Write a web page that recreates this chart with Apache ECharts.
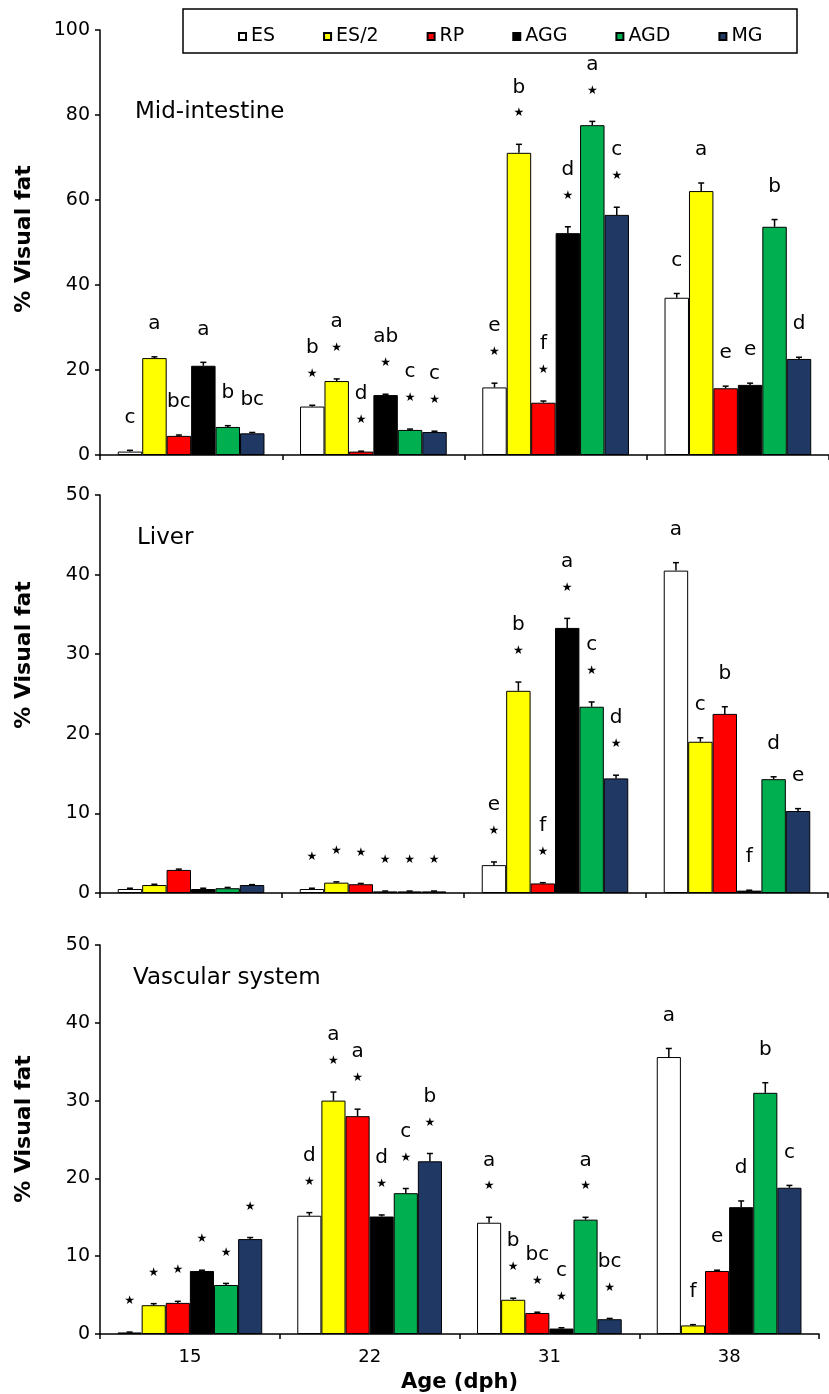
<!DOCTYPE html>
<html>
<head>
<meta charset="utf-8">
<script src="https://cdn.jsdelivr.net/npm/echarts@6/dist/echarts.min.js"></script>
<style>
  html, body { margin: 0; padding: 0; background: #fff; }
  #chart { width: 829px; height: 1394px; }
</style>
</head>
<body>
<div id="chart"></div>
<script>
// categories
const ages = ['15', '22', '31', '38']
const groups = ['ES', 'ES/2', 'RP', 'AGG', 'AGD', 'MG']
const colors = ['#ffffff', '#ffff00', '#ff0000', '#000000', '#00b050', '#1f3864']

// Mid-intestine (rows = groups, cols = ages)
const midVal = [
  [0.8, 11.4, 15.9, 37.0],
  [22.8, 17.4, 71.1, 62.1],
  [4.5, 0.8, 12.3, 15.7],
  [21.0, 14.1, 52.2, 16.5],
  [6.6, 5.9, 77.6, 53.7],
  [5.1, 5.4, 56.5, 22.6]
]
const midErr = [
  [0.3, 0.3, 1.0, 1.0],
  [0.3, 0.5, 2.0, 1.9],
  [0.2, 0.1, 0.4, 0.5],
  [0.8, 0.2, 1.5, 0.4],
  [0.3, 0.2, 0.9, 1.7],
  [0.2, 0.2, 1.8, 0.4]
]
const midLetter = [
  ['c', 'b', 'e', 'c'],
  ['a', 'a', 'b', 'a'],
  ['bc', 'd', 'f', 'e'],
  ['a', 'ab', 'd', 'e'],
  ['b', 'c', 'a', 'b'],
  ['bc', 'c', 'c', 'd']
]
const midStar = [0, 1, 1, 0]

// Liver
const livVal = [
  [0.5, 0.5, 3.5, 40.5],
  [1.0, 1.3, 25.4, 19.0],
  [2.9, 1.1, 1.2, 22.5],
  [0.5, 0.2, 33.3, 0.3],
  [0.6, 0.2, 23.4, 14.3],
  [1.0, 0.2, 14.4, 10.3]
]
const livErr = [
  [0.1, 0.1, 0.4, 1.0],
  [0.1, 0.1, 1.1, 0.5],
  [0.1, 0.1, 0.1, 0.9],
  [0.1, 0.05, 1.2, 0.05],
  [0.1, 0.05, 0.6, 0.3],
  [0.05, 0.05, 0.4, 0.3]
]
const livLetter = [
  ['', '', 'e', 'a'],
  ['', '', 'b', 'c'],
  ['', '', 'f', 'b'],
  ['', '', 'a', 'f'],
  ['', '', 'c', 'd'],
  ['', '', 'd', 'e']
]
const livStar = [0, 1, 1, 0]

// Vascular system
const vasVal = [
  [0.2, 15.2, 14.3, 35.6],
  [3.7, 30.0, 4.4, 1.1],
  [4.0, 28.0, 2.7, 8.1],
  [8.1, 15.1, 0.7, 16.3],
  [6.3, 18.1, 14.7, 31.0],
  [12.2, 22.2, 1.9, 18.8]
]
const vasErr = [
  [0.05, 0.4, 0.7, 1.1],
  [0.2, 1.1, 0.2, 0.1],
  [0.2, 0.9, 0.1, 0.1],
  [0.1, 0.2, 0.1, 0.8],
  [0.2, 0.6, 0.3, 1.3],
  [0.2, 1.0, 0.1, 0.3]
]
const vasLetter = [
  ['', 'd', 'a', 'a'],
  ['', 'a', 'b', 'f'],
  ['', 'a', 'bc', 'e'],
  ['', 'd', 'c', 'd'],
  ['', 'c', 'a', 'b'],
  ['', 'b', 'bc', 'c']
]
const vasStar = [1, 1, 1, 0]

const FONT = '"DejaVu Sans", sans-serif'
const BAR_FILL = 0.805

const panels = [
  { title: 'Mid-intestine', val: midVal, err: midErr, letter: midLetter, star: midStar,
    grid: { left: 100, top: 30, width: 734, height: 425 }, max: 100, interval: 20,
    titlePos: [135, 112], namePos: [24, 239] },
  { title: 'Liver', val: livVal, err: livErr, letter: livLetter, star: livStar,
    grid: { left: 100, top: 495, width: 728, height: 398 }, max: 50, interval: 10,
    titlePos: [137, 538], namePos: [24, 655] },
  { title: 'Vascular system', val: vasVal, err: vasErr, letter: vasLetter, star: vasStar,
    grid: { left: 100, top: 945, width: 719, height: 389 }, max: 50, interval: 10,
    titlePos: [133, 978], namePos: [24, 1129] }
]

const series = []
panels.forEach((p, pi) => {
  groups.forEach((g, s) => {
    series.push({
      name: g,
      type: 'bar',
      xAxisIndex: pi,
      yAxisIndex: pi,
      barGap: '0%',
      barCategoryGap: ((1 - BAR_FILL) * 100) + '%',
      itemStyle: { color: colors[s], borderColor: '#000', borderWidth: 1 },
      emphasis: { disabled: true },
      data: p.val[s]
    })
  })
  // error bars + significance marks
  const items = []
  groups.forEach((g, s) => {
    ages.forEach((a, c) => {
      items.push([c, p.val[s][c] + p.err[s][c], s])
    })
  })
  series.push({
    type: 'custom',
    xAxisIndex: pi,
    yAxisIndex: pi,
    z: 5,
    silent: true,
    encode: { x: 0, y: 1 },
    data: items,
    renderItem: (params, api) => {
      const c = api.value(0)
      const s = api.value(2)
      const v = p.val[s][c]
      const e = p.err[s][c]
      const band = api.size([1, 0])[0]
      const bw = band * BAR_FILL / 6
      const x = api.coord([c, 0])[0] + (s - 2.5) * bw
      const yBar = api.coord([c, v])[1]
      const yTop = api.coord([c, v + e])[1]
      const children = [
        { type: 'line', shape: { x1: x, y1: yBar, x2: x, y2: yTop }, style: { stroke: '#000', lineWidth: 1.5 } },
        { type: 'line', shape: { x1: x - 3, y1: yTop, x2: x + 3, y2: yTop }, style: { stroke: '#000', lineWidth: 1.5 } }
      ]
      const hasStar = p.star[c] === 1
      if (hasStar) {
        children.push({
          type: 'text',
          style: { text: '★', x: x, y: yTop - 31, align: 'center', verticalAlign: 'middle',
            fontSize: 12, fontFamily: FONT, fill: '#000' }
        })
      }
      const txt = p.letter[s][c]
      if (txt) {
        children.push({
          type: 'text',
          style: { text: txt, x: x, y: yTop - (hasStar ? 57 : 33), align: 'center', verticalAlign: 'middle',
            fontSize: 20, fontFamily: FONT, fill: '#000' }
        })
      }
      return { type: 'group', children: children }
    }
  })
})

const graphics = [
  { type: 'rect', shape: { x: 183, y: 9, width: 614, height: 44 },
    style: { fill: 'none', stroke: '#000', lineWidth: 1.5 } }
]
panels.forEach(p => {
  graphics.push({
    type: 'text', x: p.titlePos[0], y: p.titlePos[1],
    style: { text: p.title, fontSize: 23, fontFamily: FONT, fill: '#000', verticalAlign: 'middle' }
  })
  graphics.push({
    type: 'text', x: p.namePos[0], y: p.namePos[1], rotation: Math.PI / 2,
    style: { text: '% Visual fat', fontSize: 22, fontWeight: 'bold', fontFamily: FONT, fill: '#000',
      align: 'center', verticalAlign: 'middle' }
  })
})

const option = {
  animation: false,
  backgroundColor: '#fff',
  legend: {
    data: groups,
    left: 233,
    top: 22,
    icon: 'rect',
    itemWidth: 7,
    itemHeight: 7,
    itemGap: 48,
    selectedMode: false,
    textStyle: { fontFamily: FONT, fontSize: 19, color: '#000' }
  },
  grid: panels.map(p => p.grid),
  xAxis: panels.map((p, pi) => ({
    type: 'category',
    gridIndex: pi,
    data: ages,
    axisLine: { lineStyle: { color: '#000', width: 1.5 } },
    axisTick: { show: true, length: 5, lineStyle: { color: '#000', width: 1.5 } },
    axisLabel: { show: pi === 2, margin: 14, color: '#000', fontFamily: FONT, fontSize: 18 },
    name: pi === 2 ? 'Age (dph)' : '',
    nameLocation: 'middle',
    nameGap: 38,
    nameTextStyle: { color: '#000', fontFamily: FONT, fontSize: 21, fontWeight: 'bold' }
  })),
  yAxis: panels.map((p, pi) => ({
    type: 'value',
    gridIndex: pi,
    min: 0,
    max: p.max,
    interval: p.interval,
    axisLine: { show: true, lineStyle: { color: '#000', width: 1.5 } },
    axisTick: { show: true, length: 5, lineStyle: { color: '#000', width: 1.5 } },
    axisLabel: { margin: 10, color: '#000', fontFamily: FONT, fontSize: 19 },
    splitLine: { show: false }
  })),
  graphic: graphics,
  series: series
}

const myChart = echarts.init(document.getElementById('chart'))
myChart.setOption(option)
</script>
</body>
</html>
